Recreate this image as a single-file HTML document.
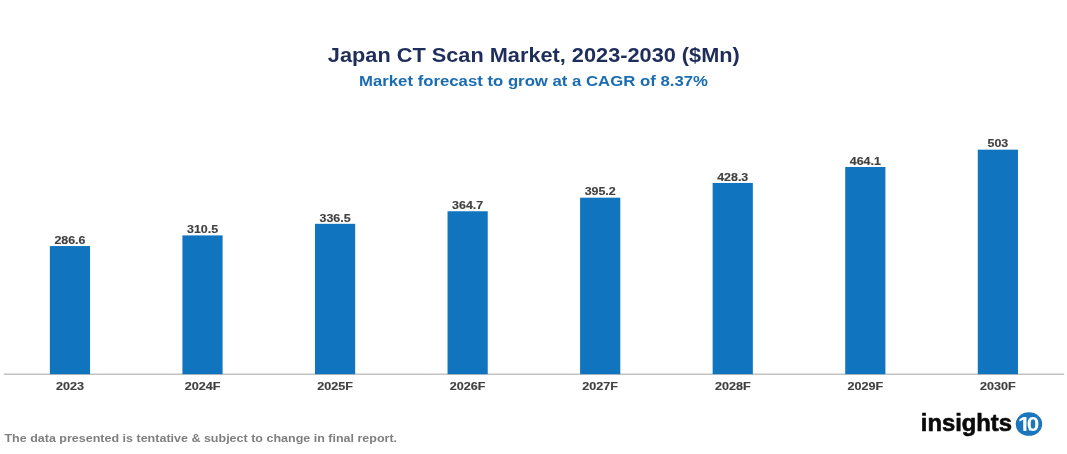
<!DOCTYPE html>
<html lang="en"><head><meta charset="utf-8"><title>Japan CT Scan Market, 2023-2030</title>
<style>
html,body{margin:0;padding:0;background:#ffffff;}
body{width:1067px;height:454px;overflow:hidden;}
svg{display:block;}
svg text{font-family:"Liberation Sans",Arial,sans-serif;font-weight:bold;}
</style></head><body>
<svg width="1067" height="454" viewBox="0 0 1067 454">
<rect x="3.8" y="373.6" width="1060.4" height="1.2" fill="#B5B5B5"/>
<rect x="49.85" y="246.05" width="40.2" height="128.15" fill="#1075BE"/>
<text transform="translate(69.95,243.75) scale(1.1000,1)" font-size="11.3" fill="#404040" stroke="#404040" stroke-width="0.15" text-anchor="middle">286.6</text>
<text transform="translate(69.95,390.00) scale(1.1350,1)" font-size="11.1" fill="#404040" stroke="#404040" stroke-width="0.15" text-anchor="middle">2023</text>
<rect x="182.41" y="235.40" width="40.2" height="138.80" fill="#1075BE"/>
<text transform="translate(202.51,233.10) scale(1.1000,1)" font-size="11.3" fill="#404040" stroke="#404040" stroke-width="0.15" text-anchor="middle">310.5</text>
<text transform="translate(202.51,390.00) scale(1.1350,1)" font-size="11.1" fill="#404040" stroke="#404040" stroke-width="0.15" text-anchor="middle">2024F</text>
<rect x="314.97" y="223.82" width="40.2" height="150.38" fill="#1075BE"/>
<text transform="translate(335.07,221.52) scale(1.1000,1)" font-size="11.3" fill="#404040" stroke="#404040" stroke-width="0.15" text-anchor="middle">336.5</text>
<text transform="translate(335.07,390.00) scale(1.1350,1)" font-size="11.1" fill="#404040" stroke="#404040" stroke-width="0.15" text-anchor="middle">2025F</text>
<rect x="447.53" y="211.26" width="40.2" height="162.94" fill="#1075BE"/>
<text transform="translate(467.63,208.96) scale(1.1000,1)" font-size="11.3" fill="#404040" stroke="#404040" stroke-width="0.15" text-anchor="middle">364.7</text>
<text transform="translate(467.63,390.00) scale(1.1350,1)" font-size="11.1" fill="#404040" stroke="#404040" stroke-width="0.15" text-anchor="middle">2026F</text>
<rect x="580.09" y="197.68" width="40.2" height="176.52" fill="#1075BE"/>
<text transform="translate(600.19,195.38) scale(1.1000,1)" font-size="11.3" fill="#404040" stroke="#404040" stroke-width="0.15" text-anchor="middle">395.2</text>
<text transform="translate(600.19,390.00) scale(1.1350,1)" font-size="11.1" fill="#404040" stroke="#404040" stroke-width="0.15" text-anchor="middle">2027F</text>
<rect x="712.65" y="182.94" width="40.2" height="191.26" fill="#1075BE"/>
<text transform="translate(732.75,180.64) scale(1.1000,1)" font-size="11.3" fill="#404040" stroke="#404040" stroke-width="0.15" text-anchor="middle">428.3</text>
<text transform="translate(732.75,390.00) scale(1.1350,1)" font-size="11.1" fill="#404040" stroke="#404040" stroke-width="0.15" text-anchor="middle">2028F</text>
<rect x="845.21" y="166.99" width="40.2" height="207.21" fill="#1075BE"/>
<text transform="translate(865.31,164.69) scale(1.1000,1)" font-size="11.3" fill="#404040" stroke="#404040" stroke-width="0.15" text-anchor="middle">464.1</text>
<text transform="translate(865.31,390.00) scale(1.1350,1)" font-size="11.1" fill="#404040" stroke="#404040" stroke-width="0.15" text-anchor="middle">2029F</text>
<rect x="977.77" y="149.66" width="40.2" height="224.54" fill="#1075BE"/>
<text transform="translate(997.87,147.36) scale(1.1000,1)" font-size="11.3" fill="#404040" stroke="#404040" stroke-width="0.15" text-anchor="middle">503</text>
<text transform="translate(997.87,390.00) scale(1.1350,1)" font-size="11.1" fill="#404040" stroke="#404040" stroke-width="0.15" text-anchor="middle">2030F</text>
<text transform="translate(327.86,62.15) scale(1.1271,1)" font-size="19.3" fill="#1F2D5A" >Japan CT Scan Market, 2023-2030 ($Mn)</text>
<text transform="translate(359.03,85.70) scale(1.1242,1)" font-size="14.9" fill="#1A6CB2" >Market forecast to grow at a CAGR of 8.37%</text>
<text transform="translate(4.47,441.80) scale(1.1222,1)" font-size="11.15" fill="#7F7F7F" >The data presented is tentative &amp; subject to change in final report.</text>
<text transform="translate(920.83,430.50) scale(1.0344,1)" font-size="23.0" fill="#0a0a0a" stroke="#0a0a0a" stroke-width="0.6" stroke-linejoin="round">insights</text>
<ellipse cx="1028.95" cy="424.1" rx="13.25" ry="11.75" fill="#1B75BC"/>
<text transform="translate(1026.8,431.45) scale(1.22,1.07)" font-size="18.5" fill="#ffffff" text-anchor="middle" letter-spacing="-3.1">10</text>
<path d="M1018.6 429.05H1023.4V432H1018.6Z M1026.4 429.05H1028.55L1029.0 430L1029.65 430.65L1030.5 431.3L1031.3 432H1026.4Z" fill="#1B75BC"/>
</svg>
</body></html>
